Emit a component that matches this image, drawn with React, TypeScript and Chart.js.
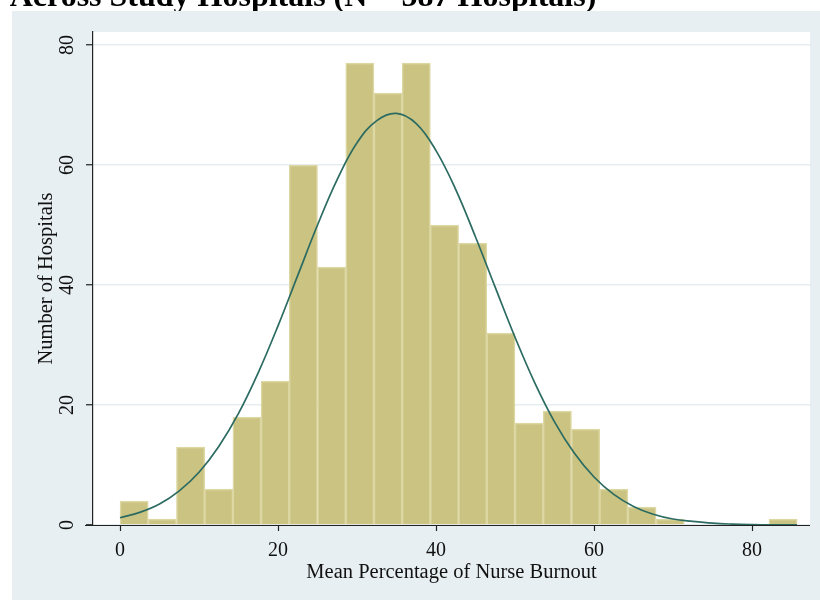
import React, { useEffect, useRef } from "react";
import { Chart, registerables } from "chart.js";

Chart.register(...registerables);

const TITLE = "Across Study Hospitals (N = 587 Hospitals)";
const X_TITLE = "Mean Percentage of Nurse Burnout";
const Y_TITLE = "Number of Hospitals";

const X_TICKS = [0, 20, 40, 60, 80];
const Y_TICKS = [0, 20, 40, 60, 80];

// histogram bins (centers, width 3.571)
const BIN_CENTERS = [
  1.79, 5.36, 8.93, 12.5, 16.07, 19.64, 23.21, 26.79, 30.36, 33.93, 37.5, 41.07,
  44.64, 48.21, 51.79, 55.36, 58.93, 62.5, 66.07, 69.64, 73.21, 76.79, 80.36, 83.93,
];
const BIN_COUNTS = [
  4, 1, 13, 6, 18, 24, 60, 43, 77, 72, 77, 50, 47, 32, 17, 19, 16, 6, 3, 1, 0, 0, 0, 1,
];

// normal density overlay
const CURVE_X = [
  0, 2.5, 5, 7.5, 10, 12.5, 15, 17.5, 20, 22.5, 25, 27.5, 30, 32.5, 35, 37.5, 40,
  42.5, 45, 47.5, 50, 52.5, 55, 57.5, 60, 62.5, 65, 67.5, 70, 72.5, 75, 77.5, 80,
  82.5, 85.7,
];
const CURVE_Y = [
  1.2, 2.1, 3.5, 5.7, 8.8, 13.1, 18.6, 25.4, 33.2, 41.6, 50.0, 57.6, 63.7, 67.4,
  68.6, 66.9, 62.4, 55.9, 48.0, 39.6, 31.3, 23.7, 17.2, 12.0, 8.0, 5.1, 3.1, 1.8,
  1.0, 0.6, 0.3, 0.15, 0.07, 0.03, 0.01,
];

const SERIF = '"Liberation Serif", "Times New Roman", serif';
const PANEL = "#e8eff2";

const framePlugin = {
  id: "frame",
  beforeDraw(chart: any) {
    const { ctx, chartArea: a } = chart;
    ctx.save();
    ctx.fillStyle = "#ffffff";
    ctx.fillRect(0, 0, chart.width, chart.height);
    ctx.fillStyle = "#000000";
    ctx.font = `bold 32px ${SERIF}`;
    ctx.textAlign = "center";
    ctx.textBaseline = "alphabetic";
    ctx.fillText(TITLE, 303, 6);
    ctx.fillStyle = PANEL;
    ctx.fillRect(12, 11, chart.width - 12, chart.height - 11);
    ctx.fillStyle = "#ffffff";
    ctx.fillRect(a.left, a.top, a.right - a.left, a.bottom - a.top);
    ctx.restore();
  },
  afterDraw(chart: any) {
    const { ctx, chartArea: a } = chart;
    const ys = chart.scales.y;
    ctx.save();
    ctx.strokeStyle = "#222";
    ctx.lineWidth = 1.2;
    ctx.beginPath();
    ctx.moveTo(85, a.bottom + 0.5);
    ctx.lineTo(a.right, a.bottom + 0.5);
    ctx.stroke();
    ctx.fillStyle = "#111";
    ctx.font = `20px ${SERIF}`;
    ctx.textAlign = "center";
    ctx.textBaseline = "middle";
    for (const v of Y_TICKS) {
      const py = ys.getPixelForValue(v);
      ctx.save();
      ctx.translate(68, py);
      ctx.rotate(-Math.PI / 2);
      ctx.fillText(String(v), 0, 0);
      ctx.restore();
    }
    ctx.restore();
  },
};

export default function App() {
  const ref = useRef<HTMLCanvasElement | null>(null);

  useEffect(() => {
    if (!ref.current) return;
    const chart = new Chart(ref.current, {
      type: "bar",
      data: {
        datasets: [
          {
            type: "line",
            data: CURVE_X.map((x, i) => ({ x, y: CURVE_Y[i] })),
            borderColor: "#2c6b62",
            borderWidth: 1.7,
            pointRadius: 0,
            tension: 0.4,
            fill: false,
            order: 0,
          } as any,
          {
            type: "bar",
            data: BIN_CENTERS.map((x, i) => ({ x, y: BIN_COUNTS[i] })),
            backgroundColor: "#cac381",
            borderColor: "#ddd7a4",
            borderWidth: 1.5,
            barPercentage: 1,
            categoryPercentage: 1,
            order: 1,
          } as any,
        ],
      },
      options: {
        responsive: false,
        animation: false,
        devicePixelRatio: 1,
        layout: { padding: { top: 32, right: 10, left: 0, bottom: 0 } },
        plugins: {
          legend: { display: false },
          title: { display: false },
          tooltip: { enabled: false },
        },
        scales: {
          x: {
            type: "linear",
            min: -3.42,
            max: 87.34,
            offset: false,
            afterBuildTicks: (s: any) => {
              s.ticks = X_TICKS.map((v) => ({ value: v }));
            },
            afterFit: (s: any) => {
              s.height = 75;
            },
            grid: {
              offset: false,
              drawOnChartArea: false,
              drawTicks: true,
              tickLength: 6,
              tickColor: "#222",
              tickWidth: 1.2,
            },
            border: { display: false },
            ticks: {
              color: "#111",
              font: { family: SERIF, size: 20 },
              padding: 8,
              maxRotation: 0,
              autoSkip: false,
            },
            title: {
              display: true,
              text: X_TITLE,
              color: "#111",
              font: { family: SERIF, size: 20.5 },
              padding: { top: 0, bottom: 15 },
            },
          },
          y: {
            type: "linear",
            min: 0,
            max: 82.17,
            afterBuildTicks: (s: any) => {
              s.ticks = Y_TICKS.map((v) => ({ value: v }));
            },
            afterFit: (s: any) => {
              s.width = 93;
            },
            grid: {
              color: "#e6edf0",
              lineWidth: 1.5,
              drawTicks: true,
              tickLength: 7,
              tickColor: "#222",
              tickWidth: 1.2,
            },
            border: { display: true, color: "#222", width: 1.2 },
            ticks: { display: false },
            title: {
              display: true,
              text: Y_TITLE,
              color: "#111",
              font: { family: SERIF, size: 20.5 },
              padding: { top: 34, bottom: 0 },
            },
          },
        },
      },
      plugins: [framePlugin],
    });
    return () => chart.destroy();
  }, []);

  return (
    <div style={{ position: "absolute", left: 0, top: 0, width: 820, height: 600 }}>
      <canvas ref={ref} width={820} height={600} />
    </div>
  );
}
